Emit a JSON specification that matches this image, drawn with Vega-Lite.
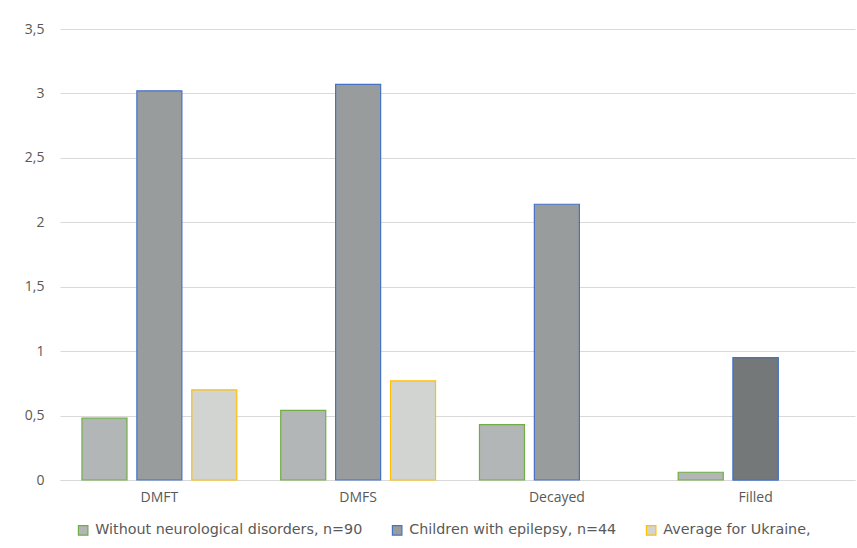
{
  "$schema": "https://vega.github.io/schema/vega-lite/v6.json",
  "width": 795,
  "height": 451,
  "autosize": {"type": "none"},
  "padding": {"left": 60, "top": 29, "right": 2, "bottom": 68},
  "background": "white",
  "data": {
    "values": [
      {"indicator": "DMFT", "group": "Without neurological disorders, n=90", "value": 0.48},
      {"indicator": "DMFT", "group": "Children with epilepsy, n=44", "value": 3.02},
      {"indicator": "DMFT", "group": "Average for Ukraine,", "value": 0.7},
      {"indicator": "DMFS", "group": "Without neurological disorders, n=90", "value": 0.54},
      {"indicator": "DMFS", "group": "Children with epilepsy, n=44", "value": 3.07},
      {"indicator": "DMFS", "group": "Average for Ukraine,", "value": 0.77},
      {"indicator": "Decayed", "group": "Without neurological disorders, n=90", "value": 0.43},
      {"indicator": "Decayed", "group": "Children with epilepsy, n=44", "value": 2.14},
      {"indicator": "Filled", "group": "Without neurological disorders, n=90", "value": 0.06},
      {"indicator": "Filled", "group": "Children with epilepsy, n=44", "value": 0.95}
    ]
  },
  "encoding": {
    "x": {
      "field": "indicator",
      "type": "nominal",
      "sort": ["DMFT", "DMFS", "Decayed", "Filled"],
      "scale": {"paddingInner": 0, "paddingOuter": 0},
      "axis": {
        "title": null,
        "labelAngle": 0,
        "ticks": false,
        "domain": true,
        "domainColor": "#d9d9d9",
        "labelColor": "#595959",
        "labelFontSize": 14,
        "labelFont": "Open Sans",
        "labelPadding": 10
      }
    },
    "xOffset": {
      "field": "group",
      "type": "nominal",
      "sort": ["Without neurological disorders, n=90", "Children with epilepsy, n=44", "Average for Ukraine,"],
      "scale": {"paddingInner": 0.18, "paddingOuter": 0.4}
    },
    "y": {
      "field": "value",
      "type": "quantitative",
      "scale": {"domain": [0, 3.5], "nice": false},
      "axis": {
        "title": null,
        "values": [0, 0.5, 1, 1.5, 2, 2.5, 3, 3.5],
        "labelExpr": "replace(format(datum.value, ''), '.', ',')",
        "domain": false,
        "ticks": false,
        "gridColor": "#d9d9d9",
        "labelColor": "#595959",
        "labelFontSize": 14,
        "labelFont": "Open Sans",
        "labelPadding": 16
      }
    }
  },
  "layer": [
    {
      "mark": {"type": "bar", "strokeWidth": 1.2},
      "encoding": {
        "fill": {
          "field": "group",
          "type": "nominal",
          "sort": ["Without neurological disorders, n=90", "Children with epilepsy, n=44", "Average for Ukraine,"],
          "scale": {"range": ["#b3b6b6", "#999c9c", "#d2d4d2"]},
          "legend": {
            "title": null,
            "orient": "none",
            "direction": "horizontal",
            "legendX": 16,
            "legendY": 494,
            "encode": {
              "symbols": {
                "update": {
                  "stroke": {"scale": "stroke", "field": "value"}
                }
              }
            }
          }
        },
        "stroke": {
          "field": "group",
          "type": "nominal",
          "sort": ["Without neurological disorders, n=90", "Children with epilepsy, n=44", "Average for Ukraine,"],
          "scale": {"range": ["#70ad47", "#4472c4", "#ffc000"]},
          "legend": null
        }
      }
    },
    {
      "transform": [
        {"filter": "datum.indicator === 'Filled' && datum.group === 'Children with epilepsy, n=44'"}
      ],
      "mark": {"type": "bar", "strokeWidth": 1.2, "fill": "#757879", "stroke": "#4472c4"}
    }
  ],
  "config": {
    "view": {"stroke": null},
    "legend": {
      "symbolType": "square",
      "symbolSize": 90,
      "symbolStrokeWidth": 1.2,
      "labelFontSize": 14.3,
      "labelFont": "DejaVu Sans",
      "labelColor": "#595959",
      "labelOffset": 5,
      "columnPadding": 27,
      "labelLimit": 400
    }
  }
}
